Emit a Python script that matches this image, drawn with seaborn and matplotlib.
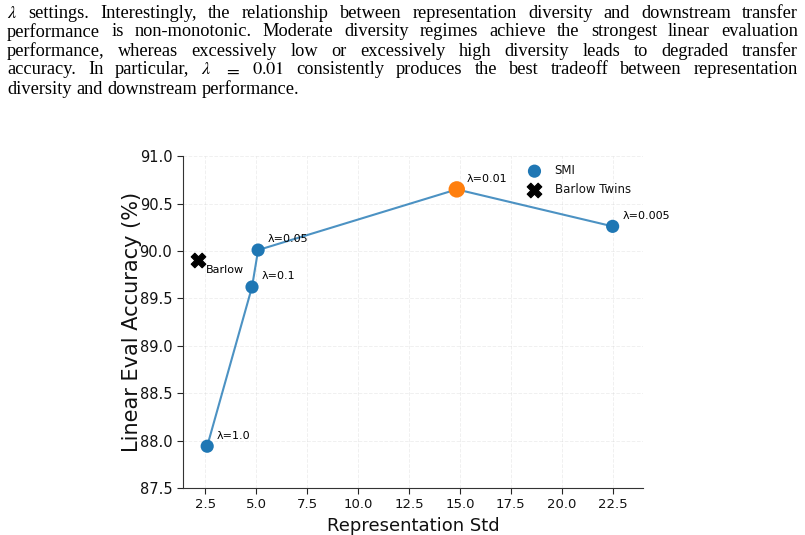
import matplotlib
matplotlib.use("Agg")
import matplotlib.pyplot as plt
import seaborn as sns
import pandas as pd

# data
lambdas = ["λ=1.0", "λ=0.1", "λ=0.05", "λ=0.01", "λ=0.005"]
rep_std = [2.6, 4.8, 5.1, 14.85, 22.5]
lin_acc = [87.94, 89.62, 90.01, 90.65, 90.26]
barlow_std = [2.15]
barlow_acc = [89.91]

para_lines = [
    r"$\lambda$ settings. Interestingly, the relationship between representation diversity and downstream transfer",
    "performance is non-monotonic. Moderate diversity regimes achieve the strongest linear evaluation",
    "performance, whereas excessively low or excessively high diversity leads to degraded transfer",
    r"accuracy. In particular, $\lambda$ $=$ $0.01$ consistently produces the best tradeoff between representation",
    "diversity and downstream performance.",
]

sns.set_style("white")
plt.rcParams["font.family"] = ["DejaVu Sans"]
plt.rcParams["mathtext.fontset"] = "stix"

fig = plt.figure(figsize=(8.05, 5.35), dpi=100)
ax = fig.add_axes([0.227, 0.088, 0.572, 0.62])

df = pd.DataFrame({"std": rep_std, "acc": lin_acc, "lam": lambdas})
sns.lineplot(data=df, x="std", y="acc", sort=False, color="#1f77b4", alpha=0.8,
             linewidth=1.5, ax=ax)
sns.scatterplot(data=df, x="std", y="acc", color="#1f77b4", s=90, edgecolor="none",
                ax=ax, label="SMI", zorder=3)
best = df[df["lam"] == "λ=0.01"]
sns.scatterplot(data=best, x="std", y="acc", color="#ff7f0e", s=140, edgecolor="none",
                ax=ax, zorder=4)
sns.scatterplot(x=barlow_std, y=barlow_acc, marker="X", color="black", s=110,
                edgecolor="black", ax=ax, label="Barlow Twins", zorder=3)

for x, y, t in zip(rep_std, lin_acc, lambdas):
    ax.annotate(t, (x, y), xytext=(7, 4), textcoords="offset points",
                fontsize=8, va="bottom", ha="left", color="black")
ax.annotate("Barlow", (barlow_std[0], barlow_acc[0]), xytext=(6, -4),
            textcoords="offset points", fontsize=8, va="top", ha="left", color="black")

ax.set_xlim(1.4, 24.0)
ax.set_ylim(87.5, 91.0)
ax.set_xticks([2.5, 5, 7.5, 10, 12.5, 15, 17.5, 20, 22.5])
ax.set_yticks([87.5, 88, 88.5, 89, 89.5, 90, 90.5, 91])
ax.xaxis.set_major_formatter(matplotlib.ticker.FormatStrFormatter("%.1f"))
ax.yaxis.set_major_formatter(matplotlib.ticker.FormatStrFormatter("%.1f"))
ax.tick_params(axis="both", length=4, left=True, bottom=True, labelcolor="#111111")
ax.tick_params(axis="x", labelsize=9.5)
ax.tick_params(axis="y", labelsize=10.5)
ax.set_xlabel("Representation Std", fontsize=13, color="#111111")
ax.set_ylabel("Linear Eval Accuracy (%)", fontsize=15, color="#111111")
ax.yaxis.set_label_coords(-0.088, 0.5)
ax.grid(True, linestyle="--", alpha=0.3, linewidth=0.7)
sns.despine(ax=ax)
for s in ["left", "bottom"]:
    ax.spines[s].set_color("#333333")

ax.legend(loc="upper left", bbox_to_anchor=(0.728, 0.99), frameon=False, fontsize=8.5,
          handletextpad=0.7, borderaxespad=0.0, labelcolor="#111111")

# justified paragraph on top
renderer = fig.canvas.get_renderer()
left_px, right_px = 7, 798
W, H = fig.bbox.width, fig.bbox.height

probe = [fig.text(0, 0, l, fontsize=10, family="Liberation Serif") for l in para_lines[:-1]]
natural = max(t.get_window_extent(renderer).width for t in probe)
for t in probe:
    t.remove()
fs = 0.92 * 10 * (right_px - left_px) / natural

y0 = 13
step = 19
for i, line in enumerate(para_lines):
    words = line.split(" ")
    ypos = 1 - (y0 + i * step) / H
    texts = [fig.text(0, ypos, w, fontsize=fs, family="Liberation Serif", va="center",
                      color="black")
             for w in words]
    widths = [t.get_window_extent(renderer).width for t in texts]
    if i < len(para_lines) - 1:
        gap = (right_px - left_px - sum(widths)) / (len(words) - 1)
    else:
        gap = fs * 100 / 72 * 0.25
    x = left_px
    for t, w in zip(texts, widths):
        t.set_x(x / W)
        x += w + gap

fig.savefig("out.png", dpi=100)
